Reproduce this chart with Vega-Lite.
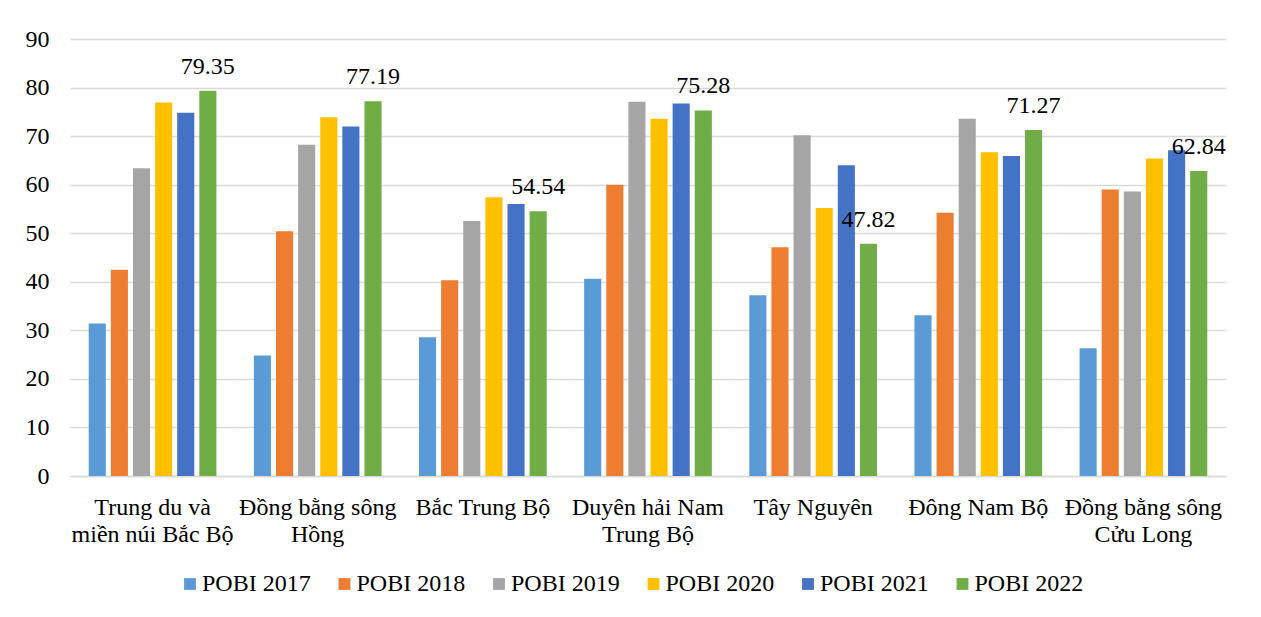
{
  "$schema": "https://vega.github.io/schema/vega-lite/v6.json",
  "autosize": {"type": "none"},
  "width": 1156,
  "height": 437,
  "padding": {"left": 70, "top": 39, "right": 35, "bottom": 141},
  "background": "white",
  "config": {
    "font": "Liberation Serif, Times New Roman, DejaVu Serif, serif",
    "view": {"stroke": null},
    "axis": {"labelFont": "Liberation Serif, Times New Roman, DejaVu Serif, serif", "labelFontSize": 24, "labelColor": "#000000"},
    "legend": {"labelFont": "Liberation Serif, Times New Roman, DejaVu Serif, serif", "labelFontSize": 24, "labelColor": "#000000", "padding": 0}
  },
  "data": {
    "values": [
      {"region": "Trung du và miền núi Bắc Bộ", "series": "POBI 2017", "value": 31.4},
      {"region": "Trung du và miền núi Bắc Bộ", "series": "POBI 2018", "value": 42.5},
      {"region": "Trung du và miền núi Bắc Bộ", "series": "POBI 2019", "value": 63.4},
      {"region": "Trung du và miền núi Bắc Bộ", "series": "POBI 2020", "value": 76.9},
      {"region": "Trung du và miền núi Bắc Bộ", "series": "POBI 2021", "value": 74.8},
      {"region": "Trung du và miền núi Bắc Bộ", "series": "POBI 2022", "value": 79.35},
      {"region": "Đồng bằng sông Hồng", "series": "POBI 2017", "value": 24.8},
      {"region": "Đồng bằng sông Hồng", "series": "POBI 2018", "value": 50.4},
      {"region": "Đồng bằng sông Hồng", "series": "POBI 2019", "value": 68.2},
      {"region": "Đồng bằng sông Hồng", "series": "POBI 2020", "value": 73.9},
      {"region": "Đồng bằng sông Hồng", "series": "POBI 2021", "value": 72.0},
      {"region": "Đồng bằng sông Hồng", "series": "POBI 2022", "value": 77.19},
      {"region": "Bắc Trung Bộ", "series": "POBI 2017", "value": 28.6},
      {"region": "Bắc Trung Bộ", "series": "POBI 2018", "value": 40.3},
      {"region": "Bắc Trung Bộ", "series": "POBI 2019", "value": 52.5},
      {"region": "Bắc Trung Bộ", "series": "POBI 2020", "value": 57.4},
      {"region": "Bắc Trung Bộ", "series": "POBI 2021", "value": 56.0},
      {"region": "Bắc Trung Bộ", "series": "POBI 2022", "value": 54.54},
      {"region": "Duyên hải Nam Trung Bộ", "series": "POBI 2017", "value": 40.6},
      {"region": "Duyên hải Nam Trung Bộ", "series": "POBI 2018", "value": 60.0},
      {"region": "Duyên hải Nam Trung Bộ", "series": "POBI 2019", "value": 77.1},
      {"region": "Duyên hải Nam Trung Bộ", "series": "POBI 2020", "value": 73.6},
      {"region": "Duyên hải Nam Trung Bộ", "series": "POBI 2021", "value": 76.7},
      {"region": "Duyên hải Nam Trung Bộ", "series": "POBI 2022", "value": 75.28},
      {"region": "Tây Nguyên", "series": "POBI 2017", "value": 37.2},
      {"region": "Tây Nguyên", "series": "POBI 2018", "value": 47.1},
      {"region": "Tây Nguyên", "series": "POBI 2019", "value": 70.2},
      {"region": "Tây Nguyên", "series": "POBI 2020", "value": 55.2},
      {"region": "Tây Nguyên", "series": "POBI 2021", "value": 64.0},
      {"region": "Tây Nguyên", "series": "POBI 2022", "value": 47.82},
      {"region": "Đông Nam Bộ", "series": "POBI 2017", "value": 33.1},
      {"region": "Đông Nam Bộ", "series": "POBI 2018", "value": 54.2},
      {"region": "Đông Nam Bộ", "series": "POBI 2019", "value": 73.6},
      {"region": "Đông Nam Bộ", "series": "POBI 2020", "value": 66.7},
      {"region": "Đông Nam Bộ", "series": "POBI 2021", "value": 65.9},
      {"region": "Đông Nam Bộ", "series": "POBI 2022", "value": 71.27},
      {"region": "Đồng bằng sông Cửu Long", "series": "POBI 2017", "value": 26.3},
      {"region": "Đồng bằng sông Cửu Long", "series": "POBI 2018", "value": 59.0},
      {"region": "Đồng bằng sông Cửu Long", "series": "POBI 2019", "value": 58.6},
      {"region": "Đồng bằng sông Cửu Long", "series": "POBI 2020", "value": 65.4},
      {"region": "Đồng bằng sông Cửu Long", "series": "POBI 2021", "value": 67.1},
      {"region": "Đồng bằng sông Cửu Long", "series": "POBI 2022", "value": 62.84}
    ]
  },
  "encoding": {
    "x": {
      "field": "region", "type": "nominal", "sort": null, "title": null,
      "scale": {"paddingInner": 0.2, "paddingOuter": 0.1},
      "axis": {
        "labelAngle": 0, "ticks": false, "domain": true, "domainColor": "#d9d9d9", "domainWidth": 1.5,
        "labelPadding": 19, "labelLineHeight": 27, "labelLimit": 300,
        "labelExpr": "datum.value == 'Trung du và miền núi Bắc Bộ' ? ['Trung du và', 'miền núi Bắc Bộ'] : datum.value == 'Đồng bằng sông Hồng' ? ['Đồng bằng sông', 'Hồng'] : datum.value == 'Duyên hải Nam Trung Bộ' ? ['Duyên hải Nam', 'Trung Bộ'] : datum.value == 'Đồng bằng sông Cửu Long' ? ['Đồng bằng sông', 'Cửu Long'] : datum.label"
      }
    },
    "xOffset": {"field": "series", "type": "nominal", "scale": {"paddingInner": 0.227, "paddingOuter": 0.1}},
    "y": {
      "field": "value", "type": "quantitative", "title": null,
      "scale": {"domain": [0, 90], "nice": false},
      "axis": {
        "values": [0, 10, 20, 30, 40, 50, 60, 70, 80, 90],
        "ticks": false, "domain": false, "labelPadding": 21,
        "grid": true, "gridColor": "#d9d9d9", "gridWidth": 1.5
      }
    }
  },
  "layer": [
    {
      "mark": {"type": "bar"},
      "encoding": {
        "color": {
          "field": "series", "type": "nominal", "title": null,
          "scale": {
            "domain": ["POBI 2017", "POBI 2018", "POBI 2019", "POBI 2020", "POBI 2021", "POBI 2022"],
            "range": ["#5B9BD5", "#ED7D31", "#A5A5A5", "#FFC000", "#4472C4", "#70AD47"]
          },
          "legend": {
            "orient": "none", "direction": "horizontal", "legendX": 108, "legendY": 533,
            "symbolType": "square", "symbolSize": 140, "symbolStrokeWidth": 0,
            "labelOffset": 0, "columnPadding": 21.5, "columns": 6
          }
        }
      }
    },
    {
      "transform": [{"filter": "datum.series == 'POBI 2022'"}],
      "mark": {"type": "text", "baseline": "alphabetic", "align": "center", "dy": -17, "fontSize": 24, "font": "Liberation Serif, Times New Roman, DejaVu Serif, serif", "color": "#000000"},
      "encoding": {
        "text": {"field": "value", "type": "quantitative", "format": ".2f"}
      }
    }
  ]
}
